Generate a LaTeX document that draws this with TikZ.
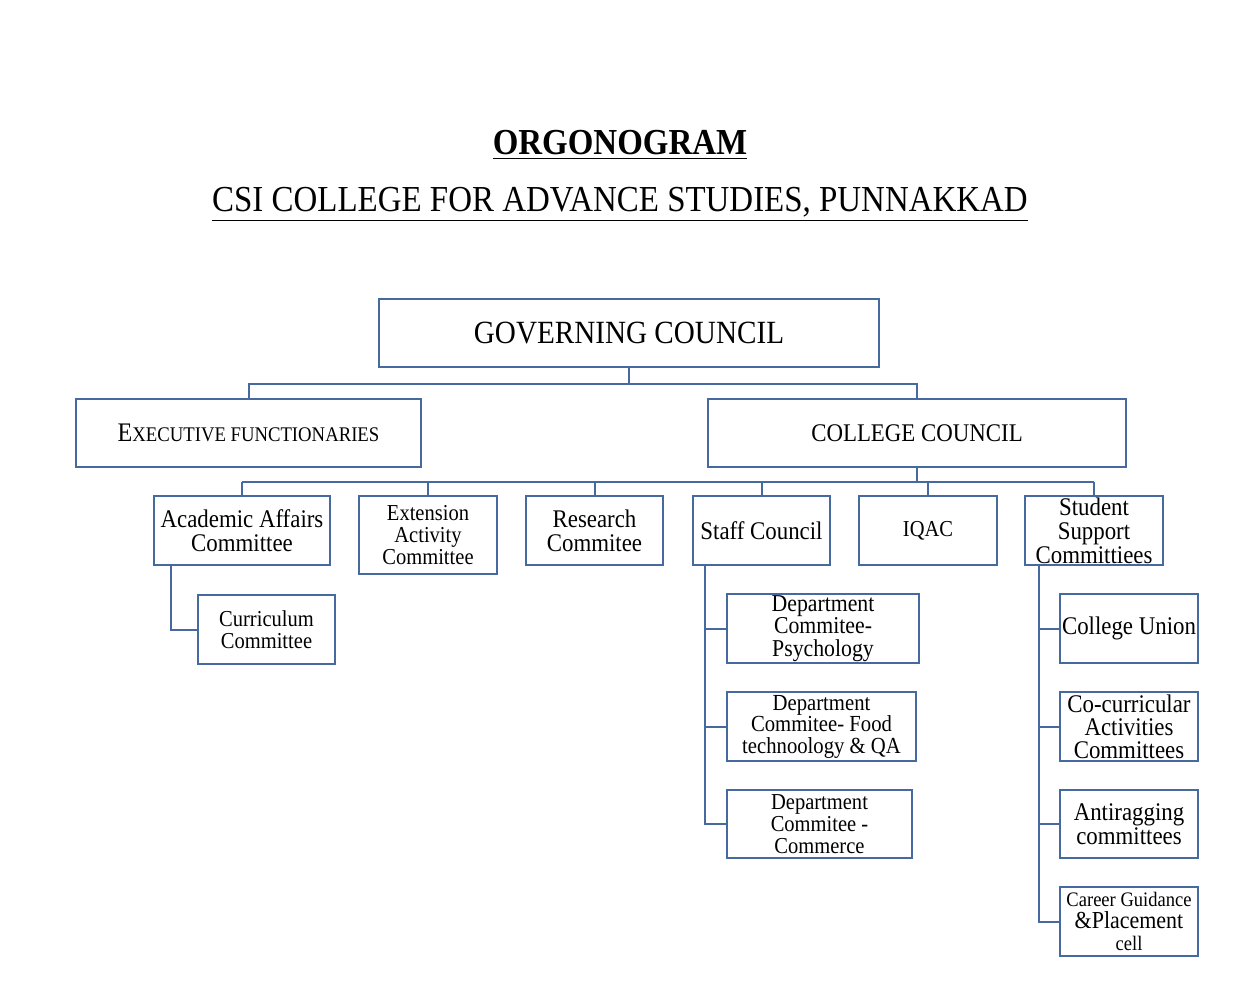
\documentclass[tikz,border=0pt]{standalone}
\usepackage{fontspec}
\setmainfont{Liberation Serif}[FakeStretch=0.9]
\definecolor{boxblue}{RGB}{70,105,160}

\begin{document}
\begin{tikzpicture}
        [x=0.5pt, y=-0.5pt,
        box/.style={draw=boxblue, line width=1pt, inner sep=0pt, align=center},
        link/.style={draw=boxblue, line width=1pt},
        bigtext/.style={font=\fontsize{16.2}{18}\selectfont},
        midtext/.style={font=\fontsize{12.7}{12}\selectfont},
        smalltext/.style={font=\fontsize{11.4}{11}\selectfont}]

    \useasboundingbox (0,0) rectangle (1241,1000);

    % titles
    \node[anchor=base, font=\bfseries\fontsize{18.3}{20}\selectfont] (title) at (620,155) {\underline{ORGONOGRAM}};
    \node[anchor=base, font=\fontsize{18.3}{20}\selectfont] (college) at (620,212) {\underline{CSI COLLEGE FOR ADVANCE STUDIES, PUNNAKKAD}};

    % top levels
    \node[box, bigtext, minimum width=250pt, minimum height=34pt] (gc) at (629,333) {GOVERNING COUNCIL};
    \node[box, minimum width=172.5pt, minimum height=34pt] (ef) at (248.5,433)
      {{\fontsize{13.4}{14}\selectfont E}{\fontsize{10.4}{12}\selectfont XECUTIVE FUNCTIONARIES}};
    \node[box, midtext, minimum width=209pt, minimum height=34pt] (cc) at (917,433) {COLLEGE COUNCIL};

    % committees
    \begin{scope}[every node/.style={box, minimum width=68.5pt, minimum height=34.5pt}]
      \node[midtext, minimum width=88pt] (aac) at (242,530.5) {Academic Affairs\\Committee};
      \node[smalltext, minimum width=69pt, minimum height=39pt] (eac) at (428,535) {Extension\\Activity\\Committee};
      \node[midtext] (rc) at (594.5,530.5) {Research\\Commitee};
      \node[midtext] (sc) at (761.5,530.5) {Staff Council};
      \node[smalltext, minimum width=69pt] (iqac) at (928,530.5) {IQAC};
      \node[midtext, minimum width=69pt] (ssc) at (1094,530.5) {Student\\Support\\Committiees};

      \node[smalltext] (cur) at (266.5,629.5) {Curriculum\\Committee};

      \node[font=\fontsize{12.1}{11.2}\selectfont, minimum width=96pt] (psy) at (823,628.5) {Department\\Commitee-\\Psychology};
      \node[font=\fontsize{11.5}{10.75}\selectfont, minimum width=94.5pt] (food) at (821.5,726.5) {Department\\Commitee- Food\\technoology \& QA};
      \node[smalltext, minimum width=92.5pt, minimum height=34pt] (com) at (819.5,824) {Department\\Commitee -\\Commerce};

      \node[midtext, minimum width=69pt] (cu) at (1129,628.5) {College Union};
      \node[font=\fontsize{12.7}{11.5}\selectfont, minimum width=69pt] (cca) at (1129,726.5) {Co-curricular\\Activities\\Committees};
      \node[midtext, minimum width=69pt, minimum height=34pt] (ar) at (1129,824) {Antiragging\\committees};
      \node[font=\fontsize{10.3}{11}\selectfont, minimum width=69pt] (cg) at (1129,921.5)
        {Career Guidance\\{\fontsize{12.2}{11}\selectfont \&Placement}\\cell};
    \end{scope}

    % connectors
    \coordinate (bus1) at (629,384);
    \coordinate (bus2) at (917,482);
    \draw[link] (gc.south) -- (bus1);
    \draw[link] (ef.north) |- (bus1) -| (cc.north);
    \draw[link] (cc.south) -- (bus2);
    \draw[link] (aac.north |- bus2) -- (ssc.north |- bus2);
    \foreach \n in {aac,eac,rc,sc,iqac,ssc}
      \draw[link] (\n.north) -- (\n.north |- bus2);

    \draw[link] ([xshift=9pt]aac.south west) |- (cur.west);
    \foreach \n in {psy,food,com}
      \draw[link] ([xshift=6.5pt]sc.south west) |- (\n.west);
    \foreach \n in {cu,cca,ar,cg}
      \draw[link] ([xshift=7.5pt]ssc.south west) |- (\n.west);
\end{tikzpicture}
\end{document}
